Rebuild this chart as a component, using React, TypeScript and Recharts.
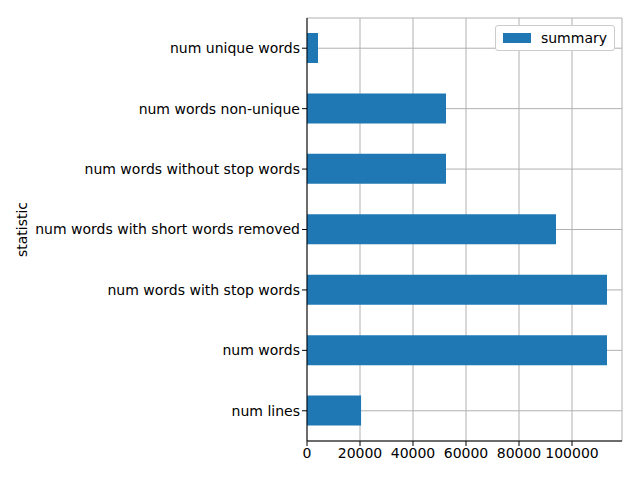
import React from 'react';
import { BarChart, Bar, XAxis, YAxis, CartesianGrid, Label } from 'recharts';

const categories = [
  'num unique words',
  'num words non-unique',
  'num words without stop words',
  'num words with short words removed',
  'num words with stop words',
  'num words',
  'num lines',
];
const summary = [4150, 52450, 52450, 93960, 113200, 113200, 20400];
const xTicks = [0, 20000, 40000, 60000, 80000, 100000];

const data = categories.map((statistic, i) => ({ statistic, summary: summary[i] }));

const font = 'DejaVu Sans, sans-serif';
const tickStyle = { fill: '#000', fontSize: 14, fontFamily: font };

const LegendBox = () => (
  <div
    style={{
      position: 'absolute',
      top: 25,
      right: 25,
      border: '1px solid #ccc',
      borderRadius: 3,
      background: '#fff',
      padding: '4px 7px',
      display: 'flex',
      alignItems: 'center',
      fontFamily: font,
      fontSize: 14,
      color: '#000',
    }}
  >
    <span style={{ width: 28, height: 10, background: '#1f77b4', marginRight: 10, display: 'inline-block' }} />
    summary
  </div>
);

const App = () => (
  <div style={{ margin: -8, width: 640, height: 480, background: '#fff', position: 'relative' }}>
    <BarChart
      width={640}
      height={480}
      data={data}
      layout="vertical"
      margin={{ top: 18, right: 18, bottom: 0, left: 0 }}
    >
      <CartesianGrid stroke="#b0b0b0" />
      <XAxis
        type="number"
        domain={[0, 118860]}
        ticks={xTicks}
        height={39}
        tick={tickStyle}
        tickSize={5}
        stroke="#000"
        tickLine={{ stroke: '#000' }}
      />
      <XAxis xAxisId="top" type="number" orientation="top" domain={[0, 118860]} height={0} tick={false} tickLine={false} stroke="#000" />
      <YAxis
        type="category"
        dataKey="statistic"
        width={307}
        tick={tickStyle}
        tickSize={5}
        stroke="#000"
        tickLine={{ stroke: '#000' }}
      >
        <Label value="statistic" angle={-90} position="insideLeft" offset={22} style={{ ...tickStyle, textAnchor: 'middle' }} />
      </YAxis>
      <YAxis yAxisId="right" type="category" dataKey="statistic" orientation="right" width={0} tick={false} tickLine={false} stroke="#000" />
      <Bar dataKey="summary" fill="#1f77b4" barSize={30} isAnimationActive={false} />
    </BarChart>
    <LegendBox />
  </div>
);

export default App;
